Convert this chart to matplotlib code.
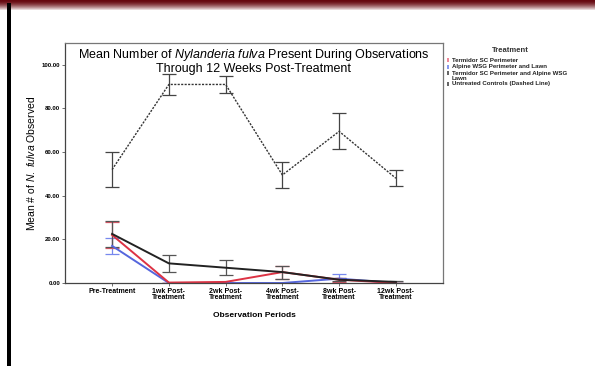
import matplotlib
matplotlib.use("Agg")
import matplotlib.pyplot as plt
import numpy as np

plt.rcParams["font.family"] = ["Liberation Sans", "DejaVu Sans"]
plt.rcParams["mathtext.fontset"] = "custom"
plt.rcParams["mathtext.rm"] = "Liberation Sans"
plt.rcParams["mathtext.it"] = "Liberation Sans:italic"
plt.rcParams["mathtext.bf"] = "Liberation Sans:bold"

periods = ["Pre-Treatment", "1wk Post-\nTreatment", "2wk Post-\nTreatment",
           "4wk Post-\nTreatment", "8wk Post-\nTreatment", "12wk Post-\nTreatment"]

# means and error bar half-widths per treatment
termidor = [22.0, 0.2, 0.5, 5.0, 1.5, 0.0]
termidor_err = [6.0, 0.0, 0.0, 3.0, 1.0, 0.0]
alpine = [17.0, 0.0, 0.0, 0.0, 2.0, 0.0]
alpine_err = [3.8, 0.0, 0.0, 0.0, 2.0, 0.0]
combined = [22.5, 9.0, 7.0, 5.0, 1.5, 0.5]
combined_err = [5.8, 4.0, 3.5, 3.0, 0.8, 0.5]
untreated = [52.0, 91.0, 91.0, 49.5, 69.5, 48.0]
untreated_err = [8.0, 5.0, 4.0, 5.8, 8.2, 3.7]

fig = plt.figure(figsize=(5.95, 3.66), dpi=100)

# page decoration: dark red band on top, black rule down the left
band = np.linspace(0, 1, 11).reshape(-1, 1) ** 1.6
top = fig.add_axes([0, 1 - 11 / 366, 1, 11 / 366])
top.imshow(np.dstack([0.40 + 0.60 * band, 0.03 + 0.97 * band, 0.06 + 0.94 * band]),
           aspect="auto", interpolation="bilinear")
top.axis("off")
fig.add_artist(plt.Rectangle((7 / 595, 0), 4 / 595, 1 - 3 / 366, transform=fig.transFigure,
                             color="black", lw=0))

ax = fig.add_axes([65 / 595, 1 - 283 / 366, 378 / 595, 240 / 366])
x = np.arange(len(periods))

eb_kw = dict(capsize=5, elinewidth=0.9, capthick=0.9)
ax.errorbar(x, untreated, yerr=untreated_err, color="#333333", lw=1.0, ls=(0, (1.5, 1)),
            ecolor="#444444", **eb_kw)
ax.errorbar(x, alpine, yerr=alpine_err, color="#5566dd", lw=1.4, ecolor="#7788ee", **eb_kw)
ax.errorbar(x, termidor, yerr=termidor_err, color="#dd3344", lw=1.4, ecolor="#dd5566", **eb_kw)
ax.errorbar(x, combined, yerr=combined_err, color="#222222", lw=1.4, ecolor="#555555", **eb_kw)

ax.set_xlim(-0.83, 5.83)
ax.set_ylim(0, 110)
ax.set_yticks([0, 20, 40, 60, 80, 100])
ax.set_yticklabels([f"{v:.2f}" for v in [0, 20, 40, 60, 80, 100]], fontsize=4.3, fontweight="bold")
ax.set_xticks(x)
ax.set_xticklabels(periods, fontsize=5.0, fontweight="bold", linespacing=0.8)
ax.tick_params(length=2, width=0.6, pad=1.5, color="#555555")
for s in ax.spines.values():
    s.set_color("#777777")
    s.set_linewidth(0.9)
ax.spines["left"].set_color("#444444")
ax.spines["bottom"].set_color("#444444")

ax.set_xlabel("Observation Periods", fontsize=6, fontweight="bold", labelpad=8)
ax.set_ylabel(r"Mean # of $\it{N.}$ $\it{fulva}$ Observed", fontsize=7.5, labelpad=3)
ax.text(0.5, 0.985,
        "Mean Number of $\\it{Nylanderia}$ $\\it{fulva}$ Present During Observations\n"
        "Through 12 Weeks Post-Treatment",
        transform=ax.transAxes, ha="center", va="top", fontsize=9, linespacing=1.0)

# legend block to the right of the plot
fig.text(510 / 595, 1 - 50 / 366, "Treatment", fontsize=5.5, fontweight="bold",
         ha="center", va="center", color="#333333")
legend_rows = [
    (60, ["Termidor SC Perimeter"], "#ee8899"),
    (66.5, ["Alpine WSG Perimeter and Lawn"], "#8899ee"),
    (73, ["Termidor SC Perimeter and Alpine WSG", "Lawn"], "#666666"),
    (84, ["Untreated Controls (Dashed Line)"], "#666666"),
]
for y, lines, c in legend_rows:
    fig.add_artist(plt.Rectangle((447 / 595, 1 - (y + 2) / 366), 2 / 595, 4 / 366,
                                 transform=fig.transFigure, color=c, lw=0))
    for i, line in enumerate(lines):
        fig.text(452 / 595, 1 - (y + 5 * i) / 366, line, fontsize=4.4, fontweight="bold",
                 ha="left", va="center", color="#222222")

fig.savefig("out.png", dpi=100)
